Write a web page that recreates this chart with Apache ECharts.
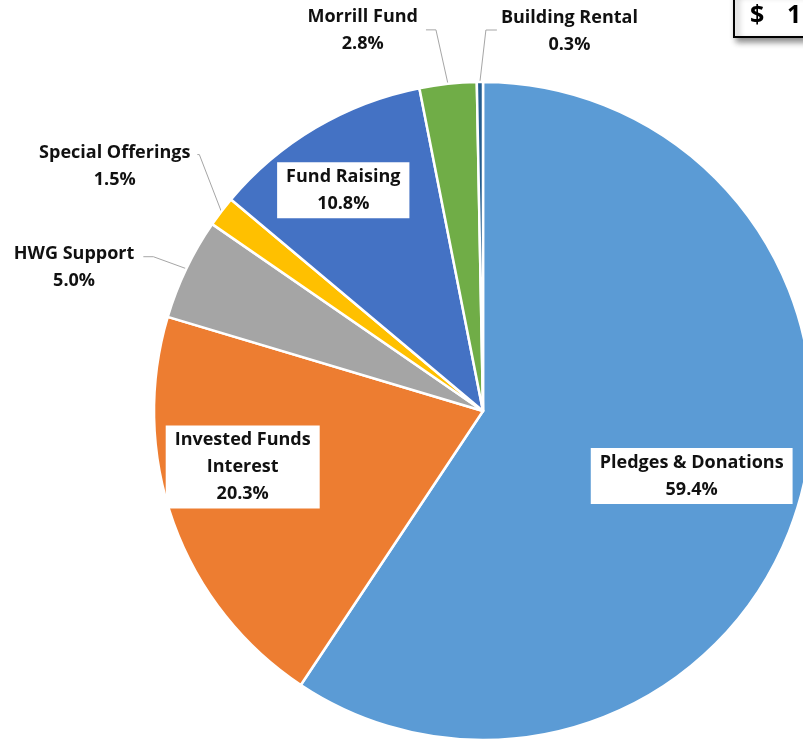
<!DOCTYPE html>
<html><head><meta charset="utf-8">
<script src="https://cdn.jsdelivr.net/npm/echarts@6/dist/echarts.min.js"></script>
<style>html,body{margin:0;padding:0;background:#fff}#c{width:803px;height:743px}</style>
</head><body><div id="c"></div>
<script>
// ---- data ----
const categories = ['Pledges & Donations','Invested Funds Interest','HWG Support','Special Offerings','Fund Raising','Morrill Fund','Building Rental'];
const labelNames = ['Pledges & Donations','Invested Funds\nInterest','HWG Support','Special Offerings','Fund Raising','Morrill Fund','Building Rental'];
const values = [59.4, 20.3, 5.0, 1.5, 10.8, 2.8, 0.3];
const totalParts = ['$', '1'];

// ---- styles ----
const colors = ['#5B9BD5','#ED7D31','#A5A5A5','#FFC000','#4472C4','#70AD47','#255E91'];
const insideIdx = [0, 1, 4];
const CX = 483, CY = 411, R = 329;
const FONT = '"Open Sans", "Liberation Sans", Arial, sans-serif';
const layoutCfg = {
  0: {d: 218, dx: 0, dy: 2},
  1: {d: 247, dx: -8, dy: -28},
  4: {d: 261, dx: -7, dy: 4},
  5: {line: [[-12, -54], [-10, 0]], side: -1, gap: 8, ty: 1},
  6: {line: [[6, -52], [11, 0]], side: 1, gap: 4, ty: 1},
  3: {line: [[-22, -57], [-2, 0]], side: -1, gap: 7, ty: 12},
  2: {line: [[-33, -12], [-10, 0]], side: -1, gap: 9, ty: 11}
};

const total = values.reduce((a, b) => a + b, 0);
function midAngle(i) {
  let s = 0; for (let k = 0; k < i; k++) s += values[k];
  return (s + values[i] / 2) / total * Math.PI * 2;
}

const data = categories.map((c, i) => {
  const inside = insideIdx.indexOf(i) >= 0;
  return {
    name: c,
    value: values[i],
    itemStyle: {color: colors[i]},
    label: inside ? {
      position: 'inside', backgroundColor: '#fff', padding: [2, 9, 0, 9]
    } : {position: 'outside'},
    labelLine: {show: !inside}
  };
});

const chart = echarts.init(document.getElementById('c'), null, {renderer: 'canvas'});
chart.setOption({
  backgroundColor: '#fff',
  animation: false,
  series: [{
    type: 'pie',
    center: [CX, CY],
    radius: [0, R],
    startAngle: 90,
    clockwise: true,
    avoidLabelOverlap: false,
    silent: true,
    itemStyle: {borderColor: '#fff', borderWidth: 2.5},
    label: {
      show: true,
      formatter: p => labelNames[p.dataIndex] + '\n' + values[p.dataIndex].toFixed(1) + '%',
      fontFamily: FONT, fontWeight: 'bold', fontSize: 18, color: '#111',
      lineHeight: 27, align: 'center'
    },
    labelLine: {show: true, length: 30, length2: 10, lineStyle: {color: '#A6A6A6', width: 1}},
    labelLayout: function (p) {
      const i = p.dataIndex, cfg = layoutCfg[i];
      if (!cfg) return {};
      const a = midAngle(i);
      const sx = Math.sin(a), sy = -Math.cos(a);
      if (cfg.d != null) {
        return {x: CX + cfg.d * sx + cfg.dx, y: CY + cfg.d * sy + cfg.dy, align: 'center', verticalAlign: 'middle'};
      }
      const p0 = [CX + R * sx, CY + R * sy];
      const p1 = [p0[0] + cfg.line[0][0], p0[1] + cfg.line[0][1]];
      const p2 = [p1[0] + cfg.line[1][0], p1[1] + cfg.line[1][1]];
      const w = p.labelRect.width;
      const x = p2[0] + cfg.side * (cfg.gap + w / 2);
      return {x: x, y: p2[1] + cfg.ty, align: 'center', verticalAlign: 'middle', labelLinePoints: [p0, p1, p2]};
    },
    data: data
  }],
  graphic: [{
    type: 'group', left: 733, top: -10,
    children: [{
      type: 'rect', shape: {x: 0, y: 0, width: 120, height: 46},
      style: {fill: '#fff', stroke: '#000', lineWidth: 2, shadowBlur: 6, shadowOffsetX: 3, shadowOffsetY: 4, shadowColor: 'rgba(0,0,0,0.45)'}
    }, {
      type: 'text', x: 16, y: 12,
      style: {text: totalParts[0], fontFamily: FONT, fontWeight: 'bold', fontSize: 25, fill: '#000'}
    }, {
      type: 'text', x: 53, y: 12,
      style: {text: totalParts[1], fontFamily: FONT, fontWeight: 'bold', fontSize: 25, fill: '#000'}
    }]
  }]
});
</script></body></html>
